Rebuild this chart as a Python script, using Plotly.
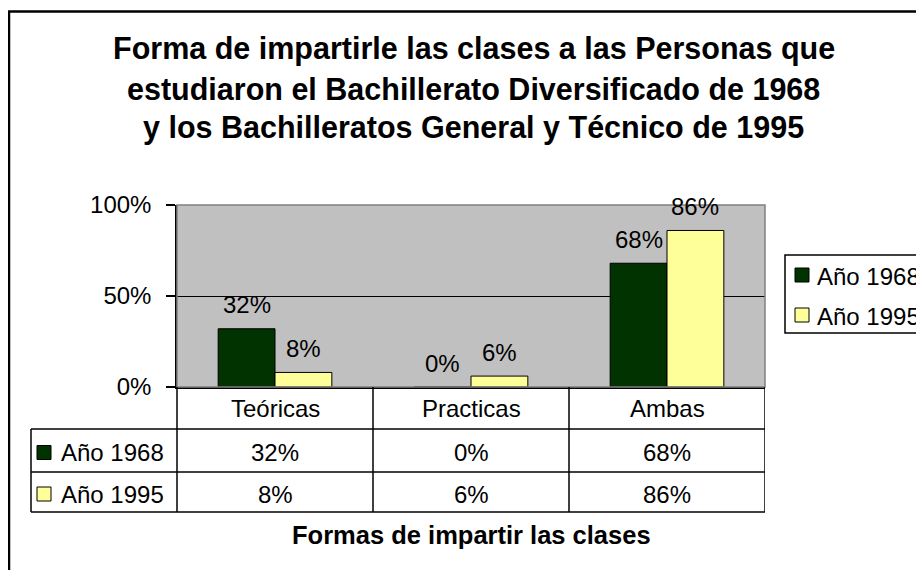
import plotly.graph_objects as go

# ---------------- data ----------------
categories = ["Teóricas", "Practicas", "Ambas"]
series_names = ["Año 1968", "Año 1995"]
values_1968 = [0.32, 0.00, 0.68]
values_1995 = [0.08, 0.06, 0.86]
y_ticks = [0, 0.5, 1.0]
title_lines = ["Forma de impartirle las clases a las Personas que",
               "estudiaron el Bachillerato Diversificado de 1968",
               "y los Bachilleratos General y Técnico de 1995"]
x_title = "Formas de impartir las clases"

series_values = [values_1968, values_1995]
colors = ["#003300", "#FFFF99"]

# ---------------- layout constants ----------------
# The page body has an 8px margin, so the figure is a little smaller than the
# window and all positions below are given in window pixels, then shifted.
OFF = 8
W, H = 924 - OFF, 570 - OFF
L, R, T, B = 177, 765, 205, 387          # plot area in window pixels
FONT = "Liberation Sans, Arial, sans-serif"
FS = 24
BARGAP = 0.42


def px(x):
    return (x - L) / (R - L)


def py(y):
    return (B - y) / (B - T)


def pct(v):
    return f"{round(v * 100)}%"


fig = go.Figure()
for name, vals, col in zip(series_names, series_values, colors):
    fig.add_trace(go.Bar(
        x=categories, y=vals, name=name,
        marker=dict(color=col, line=dict(color="black", width=1)),
        showlegend=False, hoverinfo="x+y+name",
    ))

shapes = []
annotations = []

# outer chart border (cut by the picture's right/bottom edges)
shapes.append(dict(type="rect", xref="paper", yref="paper",
                   x0=px(9), x1=px(960), y0=py(11.5), y1=py(600),
                   line=dict(color="black", width=2.5), fillcolor="rgba(0,0,0,0)",
                   layer="above"))
# plot area border (gray)
shapes.append(dict(type="rect", xref="paper", yref="paper", x0=0, x1=1, y0=0, y1=1,
                   line=dict(color="#808080", width=1.5), layer="above"))

# title (three centred lines)
for k, (line, yc) in enumerate(zip(title_lines, [48.5, 88.5, 127.5])):
    annotations.append(dict(x=px(474), y=py(yc), xref="paper", yref="paper",
                            text=f"<b>{line}</b>", showarrow=False,
                            xanchor="center", yanchor="middle",
                            font=dict(size=30.5, color="black", family=FONT)))

# bar value labels
bw = (1 - BARGAP) / len(series_names)
for s, vals in enumerate(series_values):
    off = (s - (len(series_names) - 1) / 2) * bw
    for i, v in enumerate(vals):
        annotations.append(dict(x=i + off, y=v, xref="x", yref="y", text=pct(v),
                                showarrow=False, yanchor="middle", yshift=24,
                                font=dict(size=FS, color="black", family=FONT)))

# ---------------- data table ----------------
tbl_left = 31
row_lines = [429, 472, 512]
lw = 1.5
for yy in row_lines:
    shapes.append(dict(type="line", xref="paper", yref="paper",
                       x0=px(tbl_left), x1=1, y0=py(yy), y1=py(yy),
                       line=dict(color="black", width=lw)))
shapes.append(dict(type="line", xref="paper", yref="paper",
                   x0=px(tbl_left), x1=px(tbl_left), y0=py(row_lines[0]), y1=py(row_lines[-1]),
                   line=dict(color="black", width=lw)))
shapes.append(dict(type="line", xref="paper", yref="paper",
                   x0=0, x1=0, y0=0, y1=py(row_lines[-1]),
                   line=dict(color="black", width=lw)))
for i in range(len(categories)):
    shapes.append(dict(type="line", xref="x", yref="paper",
                       x0=i + 0.5, x1=i + 0.5, y0=0, y1=py(row_lines[-1]),
                       line=dict(color="black", width=lw)))
# header labels
for i, c in enumerate(categories):
    annotations.append(dict(x=i, y=py((B + row_lines[0]) / 2), xref="x", yref="paper",
                            text=c, showarrow=False, yanchor="middle",
                            font=dict(size=FS, color="black", family=FONT)))
# rows
row_bounds = [(row_lines[0], row_lines[1]), (row_lines[1], row_lines[2])]
for s, (name, vals, col) in enumerate(zip(series_names, series_values, colors)):
    y0, y1 = row_bounds[s]
    yc = (y0 + y1) / 2 + 2
    shapes.append(dict(type="rect", xref="paper", yref="paper",
                       x0=px(37), x1=px(51), y0=py(yc - 7), y1=py(yc + 7),
                       fillcolor=col, line=dict(color="black", width=1)))
    annotations.append(dict(x=px(59), y=py(yc), xref="paper", yref="paper",
                            text=name, showarrow=False, xanchor="left", yanchor="middle",
                            font=dict(size=FS, color="black", family=FONT)))
    for i, v in enumerate(vals):
        annotations.append(dict(x=i, y=py(yc), xref="x", yref="paper",
                                text=pct(v), showarrow=False, yanchor="middle",
                                font=dict(size=FS, color="black", family=FONT)))

# x-axis title
annotations.append(dict(x=px(471), y=py(535), xref="paper", yref="paper",
                        text=f"<b>{x_title}</b>",
                        showarrow=False, yanchor="middle",
                        font=dict(size=25.5, color="black", family=FONT)))

# ---------------- legend (drawn) ----------------
shapes.append(dict(type="rect", xref="paper", yref="paper",
                   x0=px(785), x1=px(960), y0=py(255), y1=py(333),
                   line=dict(color="black", width=1.5), fillcolor="white"))
for s, (name, col) in enumerate(zip(series_names, colors)):
    yc = 275 + 40 * s
    shapes.append(dict(type="rect", xref="paper", yref="paper",
                       x0=px(795), x1=px(809), y0=py(yc - 7), y1=py(yc + 7),
                       fillcolor=col, line=dict(color="black", width=1)))
    annotations.append(dict(x=px(815), y=py(yc + 1), xref="paper", yref="paper",
                            text=name, showarrow=False, xanchor="left", yanchor="middle",
                            font=dict(size=FS, color="black", family=FONT)))

fig.update_layout(
    width=W, height=H,
    margin=dict(l=L - OFF, r=W - (R - OFF), t=T - OFF, b=H - (B - OFF), pad=0),
    paper_bgcolor="white", plot_bgcolor="#C0C0C0",
    barmode="group", bargap=BARGAP, bargroupgap=0,
    font=dict(family=FONT, size=FS, color="black"),
    xaxis=dict(range=[-0.5, len(categories) - 0.5], showticklabels=False, ticks="",
               showline=True, linecolor="black", linewidth=1.5, showgrid=False,
               zeroline=False, fixedrange=True),
    yaxis=dict(range=[0, 1], tickvals=y_ticks, tickformat=".0%", ticks="outside",
               ticklen=9, tickcolor="black", tickwidth=1.5, showline=True,
               linecolor="black", linewidth=1.5, showgrid=True, gridcolor="black",
               gridwidth=1.2, zeroline=False, ticklabelstandoff=10,
               tickfont=dict(size=FS, color="black", family=FONT)),
    shapes=shapes, annotations=annotations,
)

fig.write_html("out.html")
